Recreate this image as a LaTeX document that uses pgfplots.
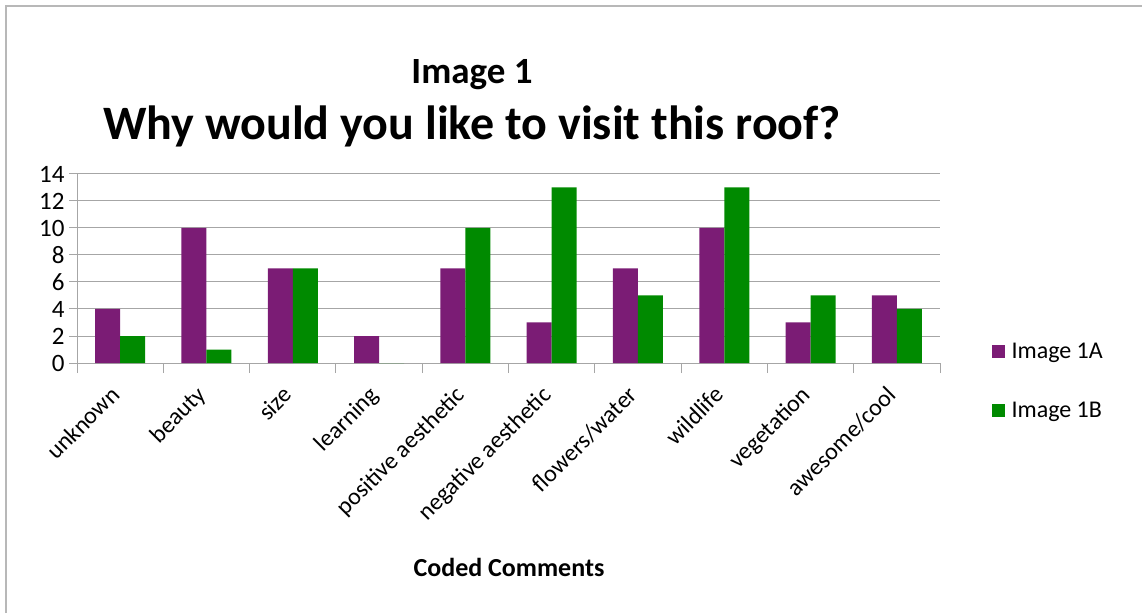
\documentclass[border=0pt]{standalone}
\usepackage{pgfplots}
\pgfplotsset{compat=1.18}
\usepackage{fontspec}
\setmainfont{Carlito}
\definecolor{cpurple}{HTML}{7B1C75}
\definecolor{cgreen}{HTML}{008A00}
\definecolor{cgrid}{HTML}{A6A6A6}
\begin{document}
\begin{tikzpicture}
\path[use as bounding box] (0pt,0pt) rectangle (1142pt,613pt);
\draw[cgrid!80, line width=1.2pt] (6pt,0pt) -- (6pt,607pt) -- (1142pt,607pt);
\node[font=\fontsize{37}{42}\selectfont\bfseries] at (472pt,538pt) {Image 1};
\node[font=\fontsize{48}{55}\selectfont\bfseries] at (472pt,487pt) {Why would you like to visit this roof?};
\node[font=\fontsize{26}{30}\selectfont\bfseries] at (509pt,46pt) {Coded Comments};
\begin{axis}[
  at={(77pt,250pt)}, anchor=south west,
  scale only axis, width=863pt, height=189pt,
  xmin=-0.5, xmax=9.5, ymin=0, ymax=14,
  ybar=0pt, bar width=25pt,
  xtick={0,...,9},
  xticklabels={unknown,beauty,size,learning,positive aesthetic,negative aesthetic,flowers/water,wildlife,vegetation,awesome/cool},
  minor xtick={-0.5,0.5,...,9.5},
  ytick={0,2,...,14},
  ymajorgrids, grid style={cgrid, line width=1pt},
  axis x line=bottom, axis y line=left,
  axis line style={cgrid, line width=1pt, -},
  tick style={cgrid, line width=1pt},
  tick align=outside,
  major tick length=8pt, minor tick length=10pt,
  xtick style={draw=none},
  minor x tick style={draw=cgrid},
  /pgf/number format/assume math mode=true,
  yticklabel style={font=\fontsize{25}{29}\selectfont, xshift=-1pt},
  xticklabel style={font=\fontsize{24}{28}\selectfont, xshift=-11pt, yshift=-12pt, rotate=45, anchor=north east, inner sep=1pt},
  legend style={draw=none, fill=none, at={(1.056,0.13)}, anchor=north west, font=\fontsize{24}{28}\selectfont, row sep=38pt, legend cell align=left},
  legend image code/.code={\fill[#1] (0pt,-6.5pt) rectangle (13pt,6.5pt); \path (18pt,0pt);},
]
\addplot[fill=cpurple, draw=none] coordinates {(0,4) (1,10) (2,7) (3,2) (4,7) (5,3) (6,7) (7,10) (8,3) (9,5)};
\addplot[fill=cgreen, draw=none] coordinates {(0,2) (1,1) (2,7) (3,0) (4,10) (5,13) (6,5) (7,13) (8,5) (9,4)};
\legend{Image 1A, Image 1B}
\end{axis}
\end{tikzpicture}
\end{document}
